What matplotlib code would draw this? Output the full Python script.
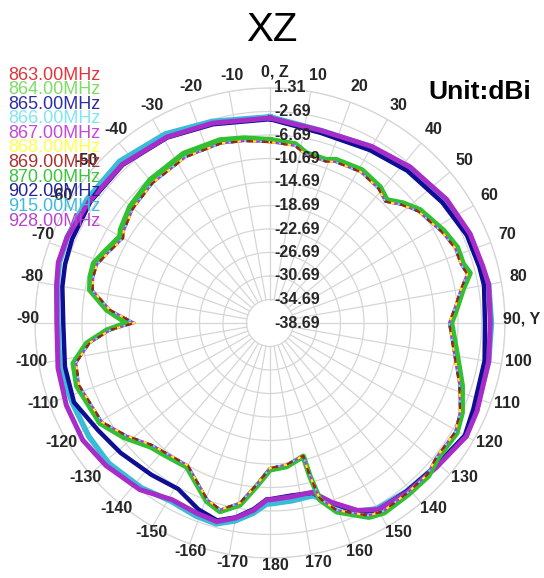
import numpy as np
import matplotlib.pyplot as plt
from matplotlib.transforms import offset_copy

plt.rcParams['font.family'] = ['Liberation Sans', 'DejaVu Sans']

# legend entries
freq_labels = ['863.00MHz', '864.00MHz', '865.00MHz', '866.00MHz', '867.00MHz', '868.00MHz',
               '869.00MHz', '870.00MHz', '902.00MHz', '915.00MHz', '928.00MHz']
legend_colors = ['#e0353d', '#7ddc63', '#2c2ca8', '#7fe6f2', '#c648d6', '#ffff4a',
                 '#a83232', '#3cc43c', '#22229c', '#3dbbd9', '#bb44cc']
line_colors = ['#e02020', '#70e050', '#1a1a9a', '#60e0f0', '#c030d0', '#f0f020',
               '#a02020', '#30c030', '#0e0e94', '#38bcd8', '#a82cc8']

# gain (dBi) vs angle (deg), band 863-870 MHz
inner_ang = [0, 8, 12, 19, 22, 31, 39, 43.5, 48, 53, 62, 68, 73, 76, 80, 86, 90, 99, 108, 115,
             120.5, 129, 134, 141, 149, 153, 160.5, 164.2, 165.4, 166, 173.4, 180, -175.3, -170.6,
             -165.1, -160.4, -150, -142, -136, -128, -120.5, -108, -101.6, -96.3, -92.5, -90,
             -85.4, -79.6, -75.6, -71.3, -67.3, -60, -58, -50.3, -40, -27, -15.3, -8, 0]
gain_870 = [-7.5, -7.9, -9.1, -9.3, -8.7, -8.3, -8.9, -9.8, -8.2, -6.7, -5.2, -4.3, -4.3, -3.6,
            -5.3, -6.9, -7.8, -6.5, -4.3, -2.6, -1.8, -2.0, -1.2, -1.2, -1.0, -1.6, -4.6, -7.4,
            -11.7, -15.3, -14.1, -13.7, -10.8, -7.3, -5.5, -6.5, -10.4, -10.0, -9.4, -7.1, -5.1,
            -4.1, -4.5, -7.3, -10.9, -14.3, -10.8, -7.5, -7.1, -7.0, -7.9, -9.2, -8.7, -7.7,
            -6.9, -6.3, -6.4, -6.9, -7.5]
gain_863_869 = [-7.9, -8.2, -9.4, -9.6, -9.1, -8.7, -9.3, -10.2, -8.6, -7.1, -5.6, -4.7, -4.7,
                -4.1, -5.7, -7.3, -8.2, -7.0, -4.8, -3.0, -2.1, -2.3, -1.5, -1.5, -1.3, -1.9,
                -4.9, -7.7, -11.9, -15.4, -14.4, -14.0, -11.1, -7.7, -5.8, -6.8, -10.7, -10.4,
                -9.8, -7.6, -5.5, -4.5, -5.0, -7.8, -11.5, -15.6, -11.4, -8.0, -7.6, -7.6, -8.5,
                -9.8, -9.3, -8.3, -7.6, -7.0, -7.0, -7.4, -7.9]

# 902 / 915 / 928 MHz
outer_ang = [0, 15, 30, 42, 55, 66, 75, 80, 90, 100, 113, 120, 131, 141, 150, 155, 161, 166, 173,
             180, -179, -175, -170, -165, -159, -151, -142, -131, -122, -112, -102, -90, -80, -74,
             -67, -56, -43, -29, -16, 0]
gain_902 = [-4.0, -5.2, -4.7, -3.8, -2.9, -2.0, -1.8, -1.7, -2.1, -1.6, -1.1, -0.4, -1.4, -1.8,
            -1.9, -3.1, -6.3, -8.9, -9.1, -8.7, -8.7, -6.9, -5.1, -3.9, -4.7, -6.4, -5.9, -5.0,
            -4.2, -2.7, -3.0, -3.5, -2.8, -2.4, -2.1, -1.8, -1.9, -2.6, -3.5, -4.0]
gain_915 = [-3.6, -4.8, -4.1, -3.1, -2.3, -1.6, -1.4, -0.9, -1.0, -0.9, -0.6, -0.2, -1.4, -1.8,
            -2.2, -3.3, -6.2, -8.4, -8.2, -7.9, -7.9, -6.2, -4.5, -3.3, -3.5, -4.0, -3.1, -2.3,
            -2.3, -2.4, -2.1, -2.6, -1.9, -1.4, -1.2, -1.1, -1.1, -1.9, -3.0, -3.6]
gain_928 = [-3.8, -4.8, -4.0, -3.0, -2.0, -1.4, -1.2, -0.9, -1.2, -0.9, -0.4, -0.1, -1.2, -1.6,
            -2.0, -3.5, -6.4, -9.0, -8.9, -8.6, -8.6, -6.7, -5.0, -3.7, -4.0, -4.3, -2.7, -1.7,
            -1.1, -1.3, -1.8, -2.4, -1.8, -1.2, -1.2, -1.6, -1.8, -2.5, -3.3, -3.8]

ring_levels = [-34.69, -30.69, -26.69, -22.69, -18.69, -14.69, -10.69, -6.69, -2.69, 1.31]
ring_labels = ['1.31', '-2.69', '-6.69', '-10.69', '-14.69', '-18.69', '-22.69', '-26.69',
               '-30.69', '-34.69', '-38.69']
angle_ticks = list(range(-170, 190, 10))
r_min, r_max = -38.69, 1.31
px_per_db = 235 / (r_max - r_min)


def th(a):
    return np.unwrap(np.deg2rad(a))


fig = plt.figure(figsize=(5.44, 5.78), dpi=100)
ax = fig.add_axes([35 / 544, 20 / 578, 470 / 544, 470 / 578], projection='polar')
ax.set_theta_zero_location('N')
ax.set_theta_direction(-1)
ax.set_ylim(r_min, r_max)
ax.grid(False)
ax.set_xticks([])
ax.set_yticks([])
ax.spines['polar'].set_color('#d6d6d6')
ax.spines['polar'].set_linewidth(0.9)

# grid
full = np.linspace(0, 2 * np.pi, 721)
for lv in ring_levels:
    ax.plot(full, np.full_like(full, lv), color='#d6d6d6', lw=0.9, zorder=1)
for a in range(0, 360, 10):
    ax.plot([np.deg2rad(a)] * 2, [ring_levels[0], r_max], color='#d6d6d6', lw=0.9, zorder=1)

# 863 - 869 under the 870 trace
for i in range(7):
    ax.plot(th(inner_ang), gain_863_869, color=line_colors[i], lw=1.6,
            ls=(i * 1.5, (3, 4)), zorder=3)
ax.plot(th(inner_ang), gain_870, color=line_colors[7], lw=4, zorder=2.5)

ax.plot(th(outer_ang), gain_915, color=line_colors[9], lw=4, zorder=2)
ax.plot(th(outer_ang), gain_902, color=line_colors[8], lw=3.2, zorder=2.1)
ax.plot(th(outer_ang), gain_928, color=line_colors[10], lw=3.6, zorder=2.2)

# radial labels along the 0 direction
lab_tr = offset_copy(ax.transData, fig=fig, x=4, y=0, units='dots')
for lv, s in zip([r_max] + ring_levels[::-1][1:] + [r_min], ring_labels):
    ax.text(0, lv, s, transform=lab_tr, ha='left', va='center', fontsize=11.5,
            fontweight='bold', color='#262626', zorder=5)

# angle labels
ang_tr = offset_copy(ax.transData, fig=fig, x=5, y=4, units='dots')
r_lab = r_min + 247 / px_per_db
for a in angle_ticks:
    s = str(a)
    if a == 0:
        s = '0, Z'
    elif a == 90:
        s = '90, Y'
    ax.text(np.deg2rad(a), r_lab, s, transform=ang_tr, ha='center', va='center',
            fontsize=11.5, fontweight='bold', color='#262626', clip_on=False)

# legend
for i, (lbl, c) in enumerate(zip(freq_labels, legend_colors)):
    fig.text(8 / 544, 1 - (75 + i * 14.6) / 578, lbl, color=c, fontsize=13,
             ha='left', va='center')

fig.text(272 / 544, 1 - 30 / 578, 'XZ', fontsize=29, ha='center', va='center')
fig.text(428 / 544, 1 - 92 / 578, 'Unit:dBi', fontsize=19, fontweight='bold',
         ha='left', va='center')

fig.savefig('out.png', dpi=100)
